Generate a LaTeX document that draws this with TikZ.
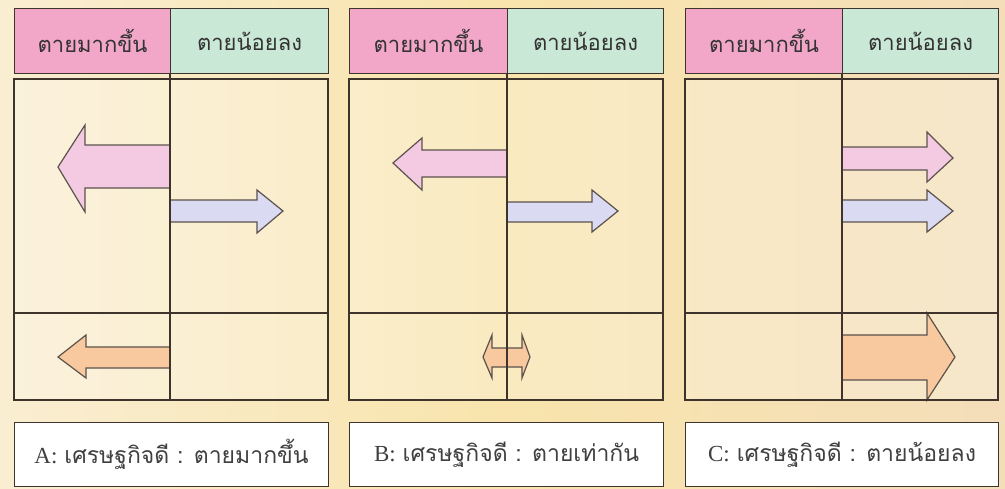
\documentclass[tikz,border=0pt]{standalone}
\usepackage{fontspec}
\newfontfamily\thaifont[Script=Thai]{Loma}
\newfontfamily\latinfont{Liberation Serif}
\definecolor{bgL}{RGB}{250,238,210}
\definecolor{bgM}{RGB}{248,228,172}
\definecolor{bgR}{RGB}{244,222,186}
\definecolor{lineC}{RGB}{62,52,44}
\definecolor{hpink}{RGB}{242,166,200}
\definecolor{hgreen}{RGB}{202,232,214}
\definecolor{apink}{RGB}{244,202,226}
\definecolor{ablue}{RGB}{218,218,242}
\definecolor{aorange}{RGB}{248,200,158}
\tikzset{
  boxline/.style={draw=lineC,line width=1.1pt},
  hdrL/.style={boxline,fill=hpink,anchor=north west,minimum height=65pt,inner sep=0pt,font=\thaifont\fontsize{22}{26}\selectfont,text=black!80},
  hdrR/.style={boxline,fill=hgreen,anchor=north west,minimum height=65pt,inner sep=0pt,font=\thaifont\fontsize{22}{26}\selectfont,text=black!80},
  mainbox/.style={boxline,fill=white,fill opacity=0.25,text opacity=1,anchor=north west,inner sep=0pt},
  capbox/.style={boxline,fill=white,anchor=north west,minimum height=64pt,inner sep=0pt,font=\fontsize{23}{27}\selectfont,text=black!75},
  arr/.style={draw=lineC!85,line width=1.2pt,line join=miter},
}
\newcommand{\caplabel}[2]{{\latinfont #1} {\thaifont #2}}
\begin{document}
\begin{tikzpicture}[x=1pt,y=-1pt]
\shade[left color=bgL,right color=bgR,middle color=bgM] (0,0) rectangle (1005,488);
\useasboundingbox (0,0) rectangle (1005,488);
% ---------- Panel A ----------
\node[mainbox,minimum width=314pt,minimum height=321pt] (Amain) at (14,79) {};
\draw[arr,fill=apink] (170,145) -- (85,145) -- (85,125) -- (58,167) -- (85,212) -- (85,188) -- (170,188);
\draw[arr,fill=ablue] (170,200) -- (257,200) -- (257,190) -- (283,211) -- (257,233) -- (257,222) -- (170,222);
\draw[arr,fill=aorange] (170,347) -- (86,347) -- (86,335) -- (58,357) -- (86,378) -- (86,368) -- (170,368);
\draw[boxline] (14,79) rectangle (328,400);
\coordinate (Amid) at (14,313);
\draw[boxline] (Amid) -- (328,313);
\draw[boxline] (170,73) -- (170,400);
\node[hdrL,minimum width=156pt] (Ahl) at (14,8) {ตายมากขึ้น};
\node[hdrR,minimum width=158pt] (Ahr) at (170,8) {ตายน้อยลง};
\node[capbox,minimum width=314pt] (Acap) at (14,422) {\caplabel{A:}{เศรษฐกิจดี : ตายมากขึ้น}};
% ---------- Panel B ----------
\node[mainbox,minimum width=314pt,minimum height=321pt] (Bmain) at (349,79) {};
\draw[arr,fill=apink] (507,150) -- (422,150) -- (422,138) -- (393,163) -- (422,190) -- (422,177) -- (507,177);
\draw[arr,fill=ablue] (507,202) -- (592,202) -- (592,190) -- (618,211) -- (592,232) -- (592,222) -- (507,222);
\draw[arr,fill=aorange] (492,348) -- (492,335) -- (483,357) -- (492,378) -- (492,367) -- (522,367) -- (522,378) -- (530,357) -- (522,335) -- (522,348) -- cycle;
\draw[boxline] (349,79) rectangle (663,400);
\draw[boxline] (349,313) -- (663,313);
\draw[boxline] (507,73) -- (507,400);
\node[hdrL,minimum width=158pt] (Bhl) at (349,8) {ตายมากขึ้น};
\node[hdrR,minimum width=156pt] (Bhr) at (507,8) {ตายน้อยลง};
\node[capbox,minimum width=314pt] (Bcap) at (349,422) {\caplabel{B:}{เศรษฐกิจดี : ตายเท่ากัน}};
% ---------- Panel C ----------
\node[mainbox,minimum width=313pt,minimum height=321pt] (Cmain) at (685,79) {};
\draw[arr,fill=apink] (842,147) -- (927,147) -- (927,132) -- (953,158) -- (927,182) -- (927,170) -- (842,170);
\draw[arr,fill=ablue] (842,200) -- (927,200) -- (927,190) -- (953,211) -- (927,232) -- (927,222) -- (842,222);
\draw[arr,fill=aorange] (842,335) -- (927,335) -- (927,313) -- (955,357) -- (927,400) -- (927,380) -- (842,380);
\draw[boxline] (685,79) rectangle (998,400);
\draw[boxline] (685,313) -- (998,313);
\draw[boxline] (842,73) -- (842,400);
\node[hdrL,minimum width=157pt] (Chl) at (685,8) {ตายมากขึ้น};
\node[hdrR,minimum width=156pt] (Chr) at (842,8) {ตายน้อยลง};
\node[capbox,minimum width=313pt] (Ccap) at (685,422) {\caplabel{C:}{เศรษฐกิจดี : ตายน้อยลง}};
\end{tikzpicture}
\end{document}
